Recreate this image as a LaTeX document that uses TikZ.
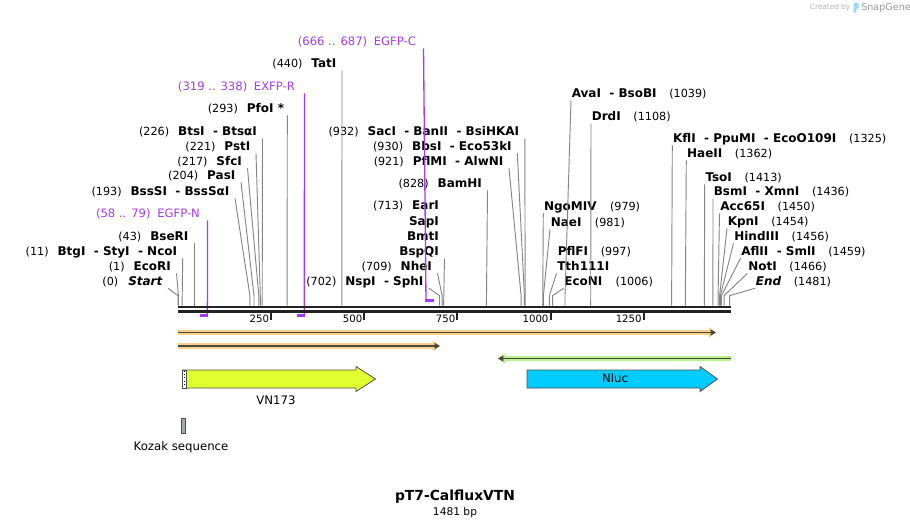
\documentclass[tikz,border=0pt]{standalone}
\usepackage{fontspec}
\setmainfont{DejaVu Sans}
\usetikzlibrary{arrows.meta}
\definecolor{cutgray}{HTML}{858585}
\definecolor{bbone}{HTML}{222222}
\definecolor{primerpurple}{HTML}{A63CF0}
\definecolor{orangeglow}{HTML}{FFCF85}
\definecolor{greenglow}{HTML}{B8F08A}
\definecolor{primerdark}{HTML}{4A4A44}
\definecolor{vnyellow}{HTML}{DFFF2E}
\definecolor{nlucblue}{HTML}{00CCFF}
\definecolor{kozakgray}{HTML}{A4A8AC}
\definecolor{featedge}{HTML}{505050}
\definecolor{logoblue}{HTML}{9FD8F5}
\newcommand{\nm}[1]{{\fontsize{9}{10}\selectfont\bfseries #1}}
\newcommand{\sepd}{\ \ -\ }
\tikzset{
 lblL/.style={anchor=east,inner xsep=4pt,inner ysep=0.5pt,text height=6.5pt,
             text depth=1.5pt,font=\fontsize{8.4}{10}\selectfont},
 lblR/.style={lblL,anchor=west,inner xsep=0.4pt},
 primerlbl/.style={lblL,text=primerpurple,font=\fontsize{8.7}{10}\selectfont,inner xsep=5.5pt},
 cut/.style={draw=cutgray,line width=0.7pt},
 primer/.style={draw=primerpurple,line width=1pt},
 primerbar/.style={draw=primerpurple,line width=1.6pt},
 backbone/.style={draw=bbone,line width=2pt},
 tick/.style={draw=bbone,line width=1.5pt},
 ruler/.style={anchor=east,inner sep=0pt,font=\fontsize{7.6}{9}\selectfont},
 fwdorange/.style={draw=primerdark,line width=1.1pt,-{Triangle[length=4pt,width=4.5pt]},
             preaction={draw=orangeglow,line width=4.2pt,-{Triangle[length=5.5pt,width=7.5pt]}}},
 revgreen/.style={draw=primerdark,line width=1.1pt,-{Triangle[length=4pt,width=4.5pt]},
             preaction={draw=greenglow,line width=4.2pt,-{Triangle[length=5.5pt,width=7.5pt]}}},
 feature/.style={draw=featedge,line width=0.6pt},
 featlbl/.style={inner sep=0pt,font=\fontsize{8.8}{10}\selectfont}
}

\begin{document}
\begin{tikzpicture}[x=0.75pt,y=-0.75pt]
\useasboundingbox (0,0) rectangle (910,529);

% cut sites on the backbone
\coordinate (bp0) at (178,305.6);
\coordinate (bp1) at (178.4,305.6);
\coordinate (bp11) at (182.1,305.6);
\coordinate (bp43) at (194,305.6);
\coordinate (bp193) at (249.9,305.6);
\coordinate (bp204) at (254,305.6);
\coordinate (bp217) at (258.8,305.6);
\coordinate (bp221) at (260.3,305.6);
\coordinate (bp226) at (262.2,305.6);
\coordinate (bp293) at (287.1,305.6);
\coordinate (bp440) at (341.9,305.6);
\coordinate (bp702) at (439.5,305.6);
\coordinate (bp709) at (442.1,305.6);
\coordinate (bp713) at (443.6,305.6);
\coordinate (bp828) at (486.4,305.6);
\coordinate (bp921) at (521.1,305.6);
\coordinate (bp930) at (524.4,305.6);
\coordinate (bp932) at (525.2,305.6);
\coordinate (bp979) at (542.7,305.6);
\coordinate (bp981) at (543.4,305.6);
\coordinate (bp997) at (549.4,305.6);
\coordinate (bp1006) at (552.7,305.6);
\coordinate (bp1039) at (565,305.6);
\coordinate (bp1108) at (590.7,305.6);
\coordinate (bp1325) at (671.6,305.6);
\coordinate (bp1362) at (685.3,305.6);
\coordinate (bp1413) at (704.3,305.6);
\coordinate (bp1436) at (712.9,305.6);
\coordinate (bp1450) at (718.1,305.6);
\coordinate (bp1454) at (719.6,305.6);
\coordinate (bp1456) at (720.4,305.6);
\coordinate (bp1459) at (721.5,305.6);
\coordinate (bp1466) at (724.1,305.6);
\coordinate (bp1481) at (729.7,305.6);

% enzyme labels, left of their line
\node[lblL] (start) at (168,282) {(0)\hspace{7.5pt}\nm{\itshape Start}};
\node[lblL] (ecori) at (176.5,267) {(1)\hspace{6.7pt}\nm{EcoRI}};
\node[lblL] (btgi) at (182.7,252) {(11)\hspace{6.7pt}\nm{BtgI\sepd StyI\sepd NcoI}};
\node[lblL] (bseri) at (194,237) {(43)\hspace{6.7pt}\nm{BseRI}};
\node[lblL] (bsssi) at (235,192) {(193)\hspace{6.7pt}\nm{BssSI\sepd BssSαI}};
\node[lblL] (pasi) at (241,176) {(204)\hspace{6.7pt}\nm{PasI}};
\node[lblL] (sfci) at (247.5,162) {(217)\hspace{6.7pt}\nm{SfcI}};
\node[lblL] (psti) at (256,147) {(221)\hspace{6.7pt}\nm{PstI}};
\node[lblL] (btsi) at (262.5,132) {(226)\hspace{6.7pt}\nm{BtsI\sepd BtsαI}};
\node[lblL,inner xsep=2.2pt] (pfoi) at (287.3,109) {(293)\hspace{6.7pt}\nm{PfoI *}};
\node[lblL] (tati) at (342,64) {(440)\hspace{6.7pt}\nm{TatI}};
\node[lblL] (nspi) at (429,282) {(702)\hspace{6.7pt}\nm{NspI\sepd SphI}};
\node[lblL] (nhei) at (437.5,267) {(709)\hspace{6.7pt}\nm{NheI}};
\node[lblL] (bspqi) at (444.5,252) {\nm{BspQI}};
\node[lblL] (bmti) at (444.5,237) {\nm{BmtI}};
\node[lblL] (sapi) at (444.5,222) {\nm{SapI}};
\node[lblL] (eari) at (444.5,206) {(713)\hspace{6.7pt}\nm{EarI}};
\node[lblL] (bamhi) at (487.5,184) {(828)\hspace{6.7pt}\nm{BamHI}};
\node[lblL] (pflmi) at (509,162) {(921)\hspace{6.7pt}\nm{PflMI\sepd AlwNI}};
\node[lblL] (bbsi) at (517.3,147) {(930)\hspace{6.7pt}\nm{BbsI\sepd Eco53kI}};
\node[lblL] (saci) at (524.8,132) {(932)\hspace{6.7pt}\nm{SacI\sepd BanII\sepd BsiHKAI}};

% enzyme labels, right of their line
\node[lblR] (ngomiv) at (543.3,207) {\nm{NgoMIV}\hspace{10pt}(979)};
\node[lblR] (naei) at (550,223) {\nm{NaeI}\hspace{10pt}(981)};
\node[lblR] (pflfi) at (557,252) {\nm{PflFI}\hspace{9.5pt}(997)};
\node[lblR] (tthi) at (556.5,267) {\nm{Tth111I}};
\node[lblR] (econi) at (563.5,282) {\nm{EcoNI}\hspace{10pt}(1006)};
\node[lblR] (avai) at (571,94) {\nm{AvaI\sepd BsoBI}\hspace{9.5pt}(1039)};
\node[lblR] (drdi) at (591,117) {\nm{DrdI}\hspace{9.5pt}(1108)};
\node[lblR] (kfli) at (672.3,139) {\nm{KflI\sepd PpuMI\sepd EcoO109I}\hspace{9.5pt}(1325)};
\node[lblR] (haeii) at (686.3,154) {\nm{HaeII}\hspace{9.5pt}(1362)};
\node[lblR] (tsoi) at (704.7,178) {\nm{TsoI}\hspace{9.5pt}(1413)};
\node[lblR] (bsmi) at (713,192) {\nm{BsmI\sepd XmnI}\hspace{9.5pt}(1436)};
\node[lblR] (acc65i) at (719.5,207) {\nm{Acc65I}\hspace{9.5pt}(1450)};
\node[lblR] (kpni) at (727,222) {\nm{KpnI}\hspace{9.5pt}(1454)};
\node[lblR] (hindiii) at (733.5,237) {\nm{HindIII}\hspace{9.5pt}(1456)};
\node[lblR] (aflii) at (740.5,252) {\nm{AflII\sepd SmlI}\hspace{9.5pt}(1459)};
\node[lblR] (noti) at (747.5,267) {\nm{NotI}\hspace{9.5pt}(1466)};
\node[lblR] (endlbl) at (755,282) {\nm{\itshape End}\hspace{9.5pt}(1481)};

% leader lines
\draw[cut] (start.south east) -- ([yshift=7.5pt]bp0) -- (bp0);
\draw[cut] (ecori.south east) -- ([yshift=7.5pt]bp1) -- (bp1);
\draw[cut] (btgi.south east) -- (bp11);
\draw[cut] (bseri.south east) -- (bp43);
\draw[cut] (bsssi.south east) -- ([yshift=7.5pt]bp193) -- (bp193);
\draw[cut] (pasi.south east) -- ([yshift=7.5pt]bp204) -- (bp204);
\draw[cut] (sfci.south east) -- ([yshift=7.5pt]bp217) -- (bp217);
\draw[cut] (psti.south east) -- ([yshift=7.5pt]bp221) -- (bp221);
\draw[cut] (btsi.south east) -- (bp226);
\draw[cut] (pfoi.south east) -- (bp293);
\draw[cut] (tati.south east) -- (bp440);
\draw[cut] (nspi.south east) -- ([yshift=7.5pt]bp702) -- (bp702);
\draw[cut] (nhei.south east) -- ([yshift=7.5pt]bp709) -- (bp709);
\draw[cut] (bspqi.south east) -- (bp713);
\draw[cut] (bamhi.south east) -- (bp828);
\draw[cut] (pflmi.south east) -- ([yshift=7.5pt]bp921) -- (bp921);
\draw[cut] (bbsi.south east) -- ([yshift=7.5pt]bp930) -- (bp930);
\draw[cut] (saci.south east) -- (bp932);
\draw[cut] (ngomiv.south west) -- (bp979);
\draw[cut] (naei.south west) -- ([yshift=7.5pt]bp981) -- (bp981);
\draw[cut] (tthi.south west) -- ([yshift=7.5pt]bp997) -- (bp997);
\draw[cut] (econi.south west) -- ([yshift=7.5pt]bp1006) -- (bp1006);
\draw[cut] (avai.south west) -- ([yshift=7.5pt]bp1039) -- (bp1039);
\draw[cut] (drdi.south west) -- (bp1108);
\draw[cut] (kfli.south west) -- (bp1325);
\draw[cut] (haeii.south west) -- (bp1362);
\draw[cut] (tsoi.south west) -- (bp1413);
\draw[cut] (bsmi.south west) -- (bp1436);
\draw[cut] (acc65i.south west) -- ([yshift=7.5pt]bp1450) -- (bp1450);
\draw[cut] (kpni.south west) -- ([yshift=7.5pt]bp1454) -- (bp1454);
\draw[cut] (hindiii.south west) -- ([yshift=7.5pt]bp1456) -- (bp1456);
\draw[cut] (aflii.south west) -- ([yshift=7.5pt]bp1459) -- (bp1459);
\draw[cut] (noti.south west) -- ([yshift=7.5pt]bp1466) -- (bp1466);
\draw[cut] (endlbl.south west) -- ([yshift=7.5pt]bp1481) -- (bp1481);

% primer binding sites
\node[primerlbl] (egfpn) at (207.5,214) {(58 .. 79)\hspace{5pt}EGFP-N};
\node[primerlbl,inner xsep=7pt] (exfpr) at (304.5,87) {(319 .. 338)\hspace{5pt}EXFP-R};
\node[primerlbl] (egfpc) at (423.5,42) {(666 .. 687)\hspace{5pt}EGFP-C};
\coordinate (egfpn-a) at (199.6,315.5);
\coordinate (egfpn-b) at (207.4,315.5);
\coordinate (exfpr-a) at (296.8,315.5);
\coordinate (exfpr-b) at (304.3,315.5);
\coordinate (egfpc-a) at (426,300.5);
\coordinate (egfpc-b) at (433.9,300.5);
\draw[primer] (egfpn.south east) -- (egfpn-b);
\draw[primerbar] (egfpn-a) -- ([xshift=0.5pt]egfpn-b);
\draw[primer] (exfpr.south east) -- (exfpr-b);
\draw[primerbar] (exfpr-a) -- ([xshift=0.5pt]exfpr-b);
\draw[primer] (egfpc.south east) -- (egfpc-a);
\draw[primerbar] ([xshift=-0.5pt]egfpc-a) -- (egfpc-b);

% backbone and ruler
\draw[backbone] (178,307) -- (731,307);
\draw[backbone] (178,311.4) -- (731,311.4);
\draw[tick] (271.1,313) -- (271.1,319.5);
\draw[tick] (364.3,313) -- (364.3,319.5);
\draw[tick] (457.4,313) -- (457.4,319.5);
\draw[tick] (550.5,313) -- (550.5,319.5);
\draw[tick] (643.6,313) -- (643.6,319.5);
\node[ruler] (t250) at (269.3,318.5) {250};
\node[ruler] (t500) at (362.5,318.5) {500};
\node[ruler] (t750) at (455.6,318.5) {750};
\node[ruler] (t1000) at (548.7,318.5) {1000};
\node[ruler] (t1250) at (641.8,318.5) {1250};

% primers
\coordinate (pa1) at (178,332.5);
\coordinate (pa2) at (716,332.5);
\coordinate (pb1) at (178,346);
\coordinate (pb2) at (440,346);
\coordinate (pc1) at (731,358.5);
\coordinate (pc2) at (498,358.5);
\draw[fwdorange] (pa1) -- (pa2);
\draw[fwdorange] (pb1) -- (pb2);
\draw[revgreen] (pc1) -- (pc2);

% features
\draw[feature,fill=vnyellow] (182.5,370) -- (356,370) -- (356,366.5) -- (375.5,379)
  -- (356,391.5) -- (356,388) -- (182.5,388) -- cycle;
\draw[feature,fill=white] (182.5,370) rectangle (186.5,388);
\draw[black,line width=0.6pt,dotted] (184.5,370.5) -- (184.5,387.5);
\node[featlbl] (vn173) at (276,400) {VN173};
\draw[feature,fill=nlucblue] (527,370) -- (700,370) -- (700,366.5) -- (717.5,379)
  -- (700,391.5) -- (700,388) -- (527,388) -- cycle;
\node[featlbl] (nluc) at (615,378.5) {Nluc};
\draw[feature,fill=kozakgray] (181,418.5) rectangle (185,433.5);
\node[featlbl] (kozak) at (181,447) {Kozak sequence};

% title
\node[inner sep=0pt,font=\fontsize{10.4}{12}\selectfont\bfseries] (title) at (455,497) {pT7-CalfluxVTN};
\node[inner sep=0pt,font=\fontsize{8}{9}\selectfont] (length) at (455,513) {1481 bp};

% watermark
\node[anchor=east,inner sep=0pt,text=black!30,font=\fontsize{5.5}{6}\selectfont] (createdby) at (850.5,7.5) {Created by};
\fill[logoblue] (853.5,2.5) -- (858.5,2.5) -- (858.5,8) -- (856,9.5) -- (856,12.5) -- (853.5,12.5) -- cycle;
\node[anchor=west,inner sep=0pt,text=black!40,font=\fontsize{7.2}{8}\selectfont] (snapgene) at (861,7.5) {SnapGene};
\end{tikzpicture}
\end{document}
